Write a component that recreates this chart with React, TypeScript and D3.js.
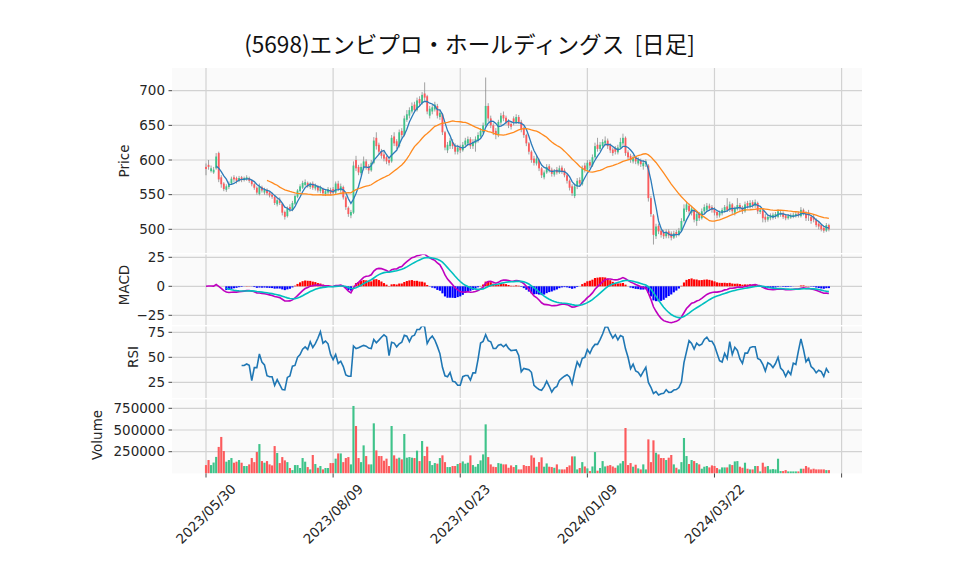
import React from 'react';
import * as d3 from 'd3';

// (5698) daily candles, 2023/05/30 .. 2024/05
const title = '(5698)エンビプロ・ホールディングス  [日足]';

const opens = [
  590, 593, 584, 582, 588, 610, 575, 566, 557, 561,
  566, 575, 574, 570, 575, 571, 572, 574, 570, 565,
  560, 551, 561, 553, 557, 553, 550, 547, 536, 542,
  537, 525, 519, 532, 528, 537, 547, 555, 560, 564,
  567, 561, 566, 559, 562, 555, 558, 551, 553, 557,
  558, 553, 566, 556, 561, 546, 531, 520, 524, 600,
  590, 581, 588, 598, 591, 585, 596, 632, 622, 613,
  608, 604, 600, 598, 634, 627, 620, 642, 636, 658,
  664, 670, 680, 672, 688, 682, 696, 692, 664, 670,
  673, 678, 662, 666, 640, 614, 620, 626, 620, 612,
  619, 614, 622, 624, 630, 620, 624, 628, 634, 640,
  650, 678, 660, 650, 642, 636, 654, 665, 661, 656,
  652, 660, 654, 662, 655, 645, 636, 624, 612, 602,
  595, 600, 588, 575, 582, 591, 586, 579, 586, 582,
  589, 585, 578, 570, 562, 548, 562, 571, 565, 592,
  586, 597, 592, 604, 622, 616, 620, 624, 628, 621,
  615, 617, 611, 618, 624, 632, 611, 606, 598, 604,
  595, 600, 591, 594, 592, 545, 520, 490, 505, 498,
  496, 490, 497, 494, 488, 496, 492, 498, 512, 528,
  534, 524, 528, 512, 522, 516, 526, 528, 534, 532,
  529, 525, 520, 523, 527, 533, 528, 536, 524, 529,
  535, 531, 526, 538, 533, 539, 534, 538, 525, 527,
  518, 514, 516, 517, 518, 518, 521, 523, 520, 516,
  517, 518, 519, 523, 519, 528, 523, 524, 518, 518,
  513, 508, 506, 502, 498, 506,
];

const highs = [
  595, 600, 592, 590, 610, 612, 578, 568, 565, 569,
  576, 578, 576, 577, 577, 576, 578, 576, 572, 567,
  562, 566, 563, 560, 559, 555, 553, 549, 545, 546,
  538, 527, 533, 536, 541, 550, 558, 565, 570, 572,
  569, 568, 569, 566, 564, 563, 560, 558, 561, 560,
  561, 569, 570, 566, 563, 548, 533, 528, 598, 606,
  593, 595, 605, 601, 594, 600, 633, 640, 625, 616,
  612, 606, 603, 636, 640, 630, 644, 646, 664, 672,
  676, 683, 684, 690, 692, 698, 712, 694, 678, 680,
  684, 681, 672, 668, 642, 626, 632, 630, 624, 622,
  622, 626, 632, 634, 633, 630, 634, 640, 646, 654,
  719, 682, 664, 653, 646, 658, 668, 670, 664, 659,
  656, 663, 666, 665, 658, 648, 638, 626, 614, 606,
  606, 602, 590, 585, 594, 594, 589, 587, 590, 592,
  592, 588, 580, 572, 565, 566, 574, 575, 592, 596,
  600, 600, 608, 625, 632, 626, 630, 634, 631, 624,
  618, 620, 622, 632, 638, 634, 614, 609, 607, 606,
  604, 602, 600, 601, 594, 548, 522, 508, 508, 501,
  499, 500, 500, 497, 498, 499, 502, 516, 536, 540,
  537, 534, 530, 526, 525, 530, 536, 538, 537, 535,
  532, 527, 527, 531, 535, 545, 540, 538, 533, 545,
  538, 534, 540, 541, 542, 542, 543, 540, 531, 529,
  522, 521, 523, 524, 525, 529, 527, 526, 522, 522,
  523, 524, 526, 526, 532, 530, 526, 528, 520, 522,
  516, 511, 508, 505, 509, 508,
];

const lows = [
  578, 586, 582, 580, 586, 568, 560, 555, 554, 558,
  564, 568, 566, 568, 568, 569, 570, 567, 562, 557,
  550, 549, 553, 550, 549, 546, 544, 535, 533, 535,
  520, 514, 517, 525, 526, 535, 545, 553, 558, 562,
  560, 558, 557, 556, 553, 552, 549, 548, 550, 549,
  550, 551, 555, 553, 543, 528, 518, 516, 522, 584,
  578, 578, 585, 586, 580, 583, 594, 615, 608, 602,
  598, 594, 592, 596, 620, 616, 618, 632, 634, 655,
  660, 667, 668, 670, 678, 680, 686, 666, 660, 666,
  670, 660, 658, 636, 614, 610, 616, 616, 608, 608,
  610, 612, 618, 620, 616, 616, 612, 625, 632, 638,
  648, 655, 646, 636, 630, 633, 650, 656, 651, 646,
  644, 650, 652, 652, 640, 632, 620, 608, 596, 592,
  592, 584, 574, 572, 580, 582, 576, 576, 579, 580,
  580, 575, 566, 556, 548, 545, 558, 562, 563, 582,
  584, 588, 590, 602, 612, 613, 618, 621, 616, 610,
  606, 608, 608, 616, 621, 606, 600, 596, 595, 594,
  592, 590, 586, 590, 540, 518, 478, 486, 493, 488,
  486, 487, 487, 484, 486, 488, 490, 496, 510, 525,
  522, 520, 510, 505, 512, 514, 523, 526, 527, 524,
  520, 516, 517, 520, 524, 525, 525, 522, 520, 527,
  526, 522, 524, 530, 530, 531, 531, 522, 522, 510,
  510, 511, 513, 514, 515, 516, 518, 515, 513, 514,
  515, 516, 517, 517, 517, 520, 512, 512, 508, 510,
  503, 500, 497, 495, 496, 497,
];

const closes = [
  587, 590, 588, 586, 605, 572, 565, 558, 562, 566,
  573, 572, 570, 574, 571, 574, 575, 570, 565, 560,
  553, 562, 556, 557, 552, 549, 547, 538, 542, 538,
  524, 518, 530, 529, 538, 548, 556, 562, 567, 568,
  562, 566, 560, 563, 556, 560, 552, 555, 558, 552,
  553, 566, 558, 562, 546, 532, 522, 525, 592, 588,
  582, 590, 598, 590, 585, 596, 628, 620, 612, 606,
  602, 598, 596, 632, 624, 620, 640, 636, 660, 666,
  672, 678, 672, 686, 682, 694, 690, 670, 674, 676,
  680, 664, 668, 640, 618, 622, 628, 620, 612, 618,
  614, 622, 628, 630, 620, 626, 630, 636, 642, 650,
  678, 660, 650, 640, 636, 655, 664, 660, 655, 650,
  648, 655, 662, 655, 644, 636, 624, 612, 600, 596,
  602, 588, 578, 582, 590, 586, 580, 584, 582, 588,
  584, 578, 570, 560, 552, 562, 570, 566, 588, 586,
  596, 592, 604, 620, 616, 622, 626, 628, 620, 614,
  610, 612, 618, 626, 632, 610, 604, 600, 604, 598,
  600, 594, 596, 598, 545, 522, 492, 504, 497, 492,
  490, 496, 491, 488, 494, 492, 498, 512, 530, 536,
  526, 530, 514, 522, 516, 526, 532, 534, 530, 528,
  524, 520, 524, 528, 532, 528, 536, 526, 530, 535,
  530, 526, 536, 534, 538, 535, 539, 526, 528, 516,
  514, 518, 520, 521, 522, 526, 524, 518, 516, 519,
  520, 521, 522, 520, 528, 524, 516, 520, 512, 514,
  506, 504, 500, 498, 506, 500,
];

const volumes = [
  96000, 154000, 96000, 125000, 190000, 305000, 420000, 258000, 135000, 154000,
  177000, 123000, 135000, 154000, 123000, 85000, 85000, 104000, 177000, 130000,
  246000, 338000, 142000, 123000, 142000, 104000, 92000, 315000, 235000, 119000,
  188000, 150000, 130000, 62000, 38000, 96000, 96000, 62000, 177000, 135000,
  73000, 46000, 212000, 108000, 65000, 85000, 46000, 62000, 62000, 119000,
  119000, 170000, 230000, 230000, 130000, 177000, 188000, 104000, 777000, 546000,
  177000, 130000, 323000, 200000, 104000, 104000, 577000, 265000, 200000, 200000,
  146000, 170000, 85000, 546000, 208000, 170000, 181000, 162000, 454000, 181000,
  188000, 181000, 177000, 262000, 142000, 373000, 200000, 308000, 142000, 96000,
  119000, 112000, 177000, 208000, 130000, 73000, 73000, 85000, 85000, 108000,
  119000, 138000, 112000, 123000, 208000, 96000, 77000, 108000, 150000, 219000,
  565000, 188000, 104000, 77000, 73000, 119000, 112000, 104000, 104000, 65000,
  92000, 73000, 96000, 46000, 46000, 96000, 85000, 85000, 208000, 181000,
  77000, 130000, 185000, 77000, 115000, 77000, 73000, 65000, 104000, 46000,
  46000, 46000, 73000, 92000, 196000, 196000, 46000, 62000, 130000, 80000,
  58000, 27000, 80000, 246000, 31000, 62000, 142000, 80000, 88000, 96000,
  80000, 65000, 92000, 115000, 142000, 523000, 96000, 119000, 77000, 100000,
  58000, 46000, 104000, 46000, 392000, 130000, 381000, 238000, 219000, 177000,
  177000, 154000, 181000, 212000, 104000, 65000, 46000, 130000, 408000, 200000,
  108000, 154000, 142000, 119000, 104000, 54000, 77000, 85000, 69000, 92000,
  85000, 62000, 46000, 69000, 69000, 69000, 104000, 96000, 138000, 142000,
  77000, 65000, 123000, 54000, 46000, 46000, 85000, 85000, 23000, 123000,
  77000, 85000, 46000, 50000, 46000, 169000, 27000, 27000, 38000, 23000,
  23000, 23000, 23000, 23000, 54000, 54000, 85000, 69000, 46000, 54000,
  46000, 46000, 46000, 46000, 38000, 38000,
];

const xTickIdx = [0, 50, 100, 150, 200, 250];
const xTickLabels = ['2023/05/30', '2023/08/09', '2023/10/23', '2024/01/09', '2024/03/22', ''];
const priceTicks = [500, 550, 600, 650, 700];
const macdTicks = [-25, 0, 25];
const rsiTicks = [25, 50, 75];
const volTicks = [250000, 500000, 750000];

const UP = '#3fc38a';
const DOWN = '#fc5a5c';
const WICK = '#8a8a8a';
const GRID = '#d2d2d2';
const FACE = '#fafafa';
const FONT = "'DejaVu Sans', sans-serif";

function sma(a: number[], n: number) {
  return a.map((_, i) => (i < n - 1 ? null : d3.mean(a.slice(i - n + 1, i + 1)) as number));
}
function ema(a: number[], span: number) {
  const k = 2 / (span + 1);
  const out: number[] = [];
  a.forEach((v, i) => out.push(i === 0 ? v : k * v + (1 - k) * out[i - 1]));
  return out;
}
function rsi(a: number[], n: number) {
  return a.map((_, i) => {
    if (i < n) return null;
    let g = 0, l = 0;
    for (let j = i - n + 1; j <= i; j++) {
      const d = a[j] - a[j - 1];
      if (d > 0) g += d; else l -= d;
    }
    return g + l === 0 ? 50 : (100 * g) / (g + l);
  });
}

const L = 172, R = 862;
const panels = {
  price: [68, 253],
  macd: [254.5, 325],
  rsi: [326.5, 398],
  vol: [399.5, 473.4],
};

export default function App() {
  const x = d3.scaleLinear().domain([0, 250]).range([206, 841.6]);
  const step = x(1) - x(0);
  const yP = d3.scaleLinear().domain([500, 700]).range([229.3, 90.7]);
  const yM = d3.scaleLinear().domain([-25, 25]).range([315.3, 257.3]);
  const yR = d3.scaleLinear().domain([25, 75]).range([382.3, 332.3]);
  const yV = d3.scaleLinear().domain([250000, 750000]).range([451.7, 408.3]);

  const ma5 = sma(closes, 5);
  const ma25 = sma(closes, 25);
  const e12 = ema(closes, 12);
  const e26 = ema(closes, 26);
  const macd = e12.map((v, i) => v - e26[i]);
  const sig = ema(macd, 9);
  const hist = macd.map((v, i) => v - sig[i]);
  const rs = rsi(closes, 14);

  const mk = (y: d3.ScaleLinear<number, number>) =>
    d3.line<number | null>()
      .defined((d) => d != null)
      .x((_, i) => x(i))
      .y((d) => y(d as number));

  const sigShown = sig.map((v, i) => (i < 8 ? null : v));

  const panel = (key: string, [t, b]: number[]) => (
    <g key={key}>
      <rect x={L} y={t} width={R - L} height={b - t} fill={FACE} />
      {xTickIdx.map((i) => (
        <line key={i} x1={x(i)} x2={x(i)} y1={t} y2={b} stroke={GRID} strokeWidth={1.2} />
      ))}
    </g>
  );

  const yAxis = (ticks: number[], y: d3.ScaleLinear<number, number>, fmt: (v: number) => string) =>
    ticks.map((v) => (
      <g key={v}>
        <line x1={L} x2={R} y1={y(v)} y2={y(v)} stroke={GRID} strokeWidth={1.2} />
        <line x1={168.5} x2={L} y1={y(v)} y2={y(v)} stroke="#333" strokeWidth={0.9} />
        <text x={165} y={y(v)} dy="0.35em" textAnchor="end" fontSize={13.5} fill="#262626" fontFamily={FONT}>
          {fmt(v)}
        </text>
      </g>
    ));

  const ylabel = (txt: string, cx: number, cy: number) => (
    <text transform={`translate(${cx},${cy}) rotate(-90)`} textAnchor="middle" dy="0.35em"
      fontSize={13.5} fill="#262626" fontFamily={FONT}>{txt}</text>
  );

  const fmtMinus = (v: number) => (v < 0 ? '\u2212' + Math.abs(v) : String(v));

  return (
    <svg width={958} height={575} style={{ position: 'absolute', left: 0, top: 0 }}>
      <rect width={958} height={575} fill="#fff" />
      <defs>
        {Object.entries(panels).map(([k, [t, b]]) => (
          <clipPath id={`clip-${k}`} key={k}>
            <rect x={L} y={t} width={R - L} height={b - t} />
          </clipPath>
        ))}
      </defs>
      <text x={469.5} y={53} textAnchor="middle" fontSize={22.6} fill="#111"
        style={{ whiteSpace: 'pre' }}
        fontFamily="'Noto Sans CJK JP', sans-serif">{title}</text>

      {Object.entries(panels).map(([k, tb]) => panel(k, tb))}

      {yAxis(priceTicks, yP, String)}
      {yAxis(macdTicks, yM, fmtMinus)}
      {yAxis(rsiTicks, yR, String)}
      {yAxis(volTicks, yV, String)}

      {/* price */}
      <g clipPath="url(#clip-price)">
        {closes.map((c, i) => {
          const o = opens[i];
          const up = c >= o;
          const col = up ? UP : DOWN;
          const top = yP(Math.max(o, c));
          const bot = yP(Math.min(o, c));
          return (
            <g key={i}>
              <line x1={x(i)} x2={x(i)} y1={yP(highs[i])} y2={yP(lows[i])} stroke={WICK} strokeWidth={0.8} />
              <rect x={x(i) - step * 0.36} y={top} width={step * 0.72} height={Math.max(bot - top, 0.8)} fill={col} />
            </g>
          );
        })}
        <path d={mk(yP)(ma5) ?? ''} fill="none" stroke="#2b7bba" strokeWidth={1.3} />
        <path d={mk(yP)(ma25) ?? ''} fill="none" stroke="#ff8a1e" strokeWidth={1.3} />
      </g>

      {/* MACD */}
      <g clipPath="url(#clip-macd)">
        {hist.map((h, i) =>
          i < 8 ? null : (
            <rect key={i} x={x(i) - step * 0.42} width={step * 0.84}
              y={Math.min(yM(0), yM(h))} height={Math.abs(yM(h) - yM(0))}
              fill={h >= 0 ? '#ff0000' : '#0000ff'} />
          ))}
        <path d={mk(yM)(macd) ?? ''} fill="none" stroke="#bf00bf" strokeWidth={1.6} />
        <path d={mk(yM)(sigShown) ?? ''} fill="none" stroke="#00bfbf" strokeWidth={1.6} />
      </g>

      {/* RSI */}
      <g clipPath="url(#clip-rsi)">
        <path d={mk(yR)(rs) ?? ''} fill="none" stroke="#1f77b4" strokeWidth={1.6} />
      </g>

      {/* Volume */}
      <g clipPath="url(#clip-vol)">
        {volumes.map((v, i) => (
          <rect key={i} x={x(i) - step * 0.42} width={step * 0.84} y={yV(v)} height={yV(0) - yV(v)}
            fill={closes[i] >= opens[i] ? UP : DOWN} />
        ))}
      </g>

      {ylabel('Price', 124, 161)}
      {ylabel('MACD', 124, 285)}
      {ylabel('RSI', 133, 357)}
      {ylabel('Volume', 97, 435)}

      {xTickIdx.map((i, k) => (
        <g key={i}>
          <line x1={x(i)} x2={x(i)} y1={473.4} y2={477.5} stroke="#333" strokeWidth={0.9} />
          <text transform={`translate(${x(i)},${514}) rotate(-45)`} textAnchor="middle" dy="0.35em"
            fontSize={13.5} fill="#262626" fontFamily={FONT}>{xTickLabels[k]}</text>
        </g>
      ))}
    </svg>
  );
}
